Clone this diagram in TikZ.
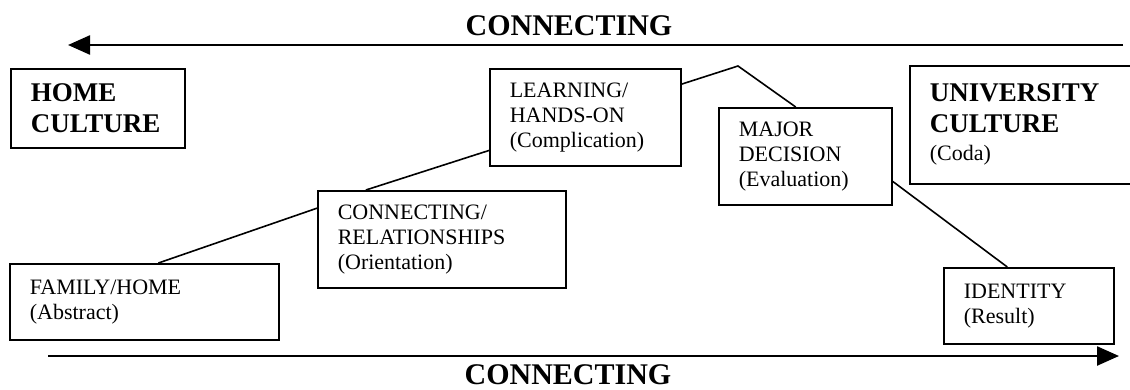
\documentclass[tikz,border=0pt]{standalone}
\usepackage{fontspec}
\setmainfont{Liberation Serif}
\usetikzlibrary{arrows.meta,positioning}

\begin{document}
\begin{tikzpicture}[x=1pt,y=-1pt,very thick]
\tikzstyle{stage}=[draw,line width=1.6pt,rectangle,anchor=north west,align=left,inner xsep=20pt,inner ysep=2pt,font=\fontsize{22}{25}\selectfont]
\tikzstyle{culture}=[stage,font=\fontsize{27}{31}\selectfont\bfseries]
\tikzstyle{link}=[line width=1.6pt]
\tikzstyle{flow}=[line width=2.4pt,-{Triangle[length=22pt,width=19pt]}]
\tikzstyle{banner}=[font=\fontsize{30}{36}\selectfont\bfseries,inner sep=0pt,anchor=base]
\useasboundingbox (0,0) rectangle (1130,389);

% the two cultures
\node [culture,text width=134pt,minimum height=79pt] (home) at (10,68) {HOME\\CULTURE};
\node [culture,text width=191pt,minimum height=118pt] (univ) at (909,65)
  {UNIVERSITY\\CULTURE\\[-3pt]{\mdseries\fontsize{22}{26}\selectfont (Coda)}};

% the stages
\node [stage,text width=229pt,minimum height=76pt] (family) at (9,263) {FAMILY/HOME\\(Abstract)};
\node [stage,text width=208pt,minimum height=97pt] (rel) at (317,190) {CONNECTING/\\RELATIONSHIPS\\(Orientation)};
\node [stage,text width=151pt,minimum height=97pt] (learning) at (489,68) {LEARNING/\\HANDS-ON\\(Complication)};
\node [stage,text width=133pt,minimum height=97pt] (major) at (718,107) {MAJOR\\DECISION\\(Evaluation)};
\node [stage,text width=130pt,minimum height=76pt] (identity) at (943,267) {IDENTITY\\(Result)};

% the path between them
\coordinate (peak) at (738,66);
\draw [link] (family.70) -- (rel.166);
\draw [link] (rel.147.5) -- (learning.199);
\draw [link] (learning.19) -- (peak) -- (major.101);
\draw [link] (major.344) -- (identity.119);

% arrows top and bottom
\coordinate (topR) at (1123,45);
\coordinate (topL) at (68,45);
\coordinate (botL) at (48,356);
\coordinate (botR) at (1119,356);
\draw [flow] (topR) -- (topL);
\draw [flow] (botL) -- (botR);
\node [banner] (conTop) at (569,35) {CONNECTING};
\node [banner] (conBot) at (568,384) {CONNECTING};
\end{tikzpicture}
\end{document}
